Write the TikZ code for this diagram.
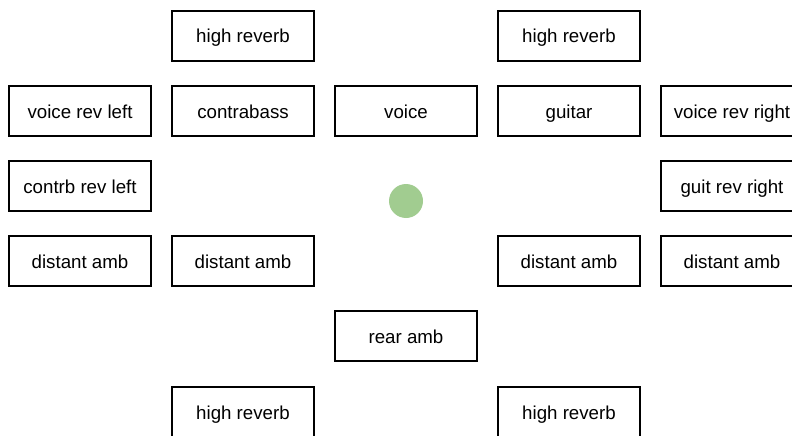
\documentclass[tikz,border=0pt]{standalone}
\usepackage{fontspec}
\setmainfont{Liberation Sans}
\usepackage{tikz}
\definecolor{listener}{RGB}{161,204,144}

\begin{document}
\begin{tikzpicture}[x=1pt, y=-1pt,
				    src/.style={draw, line width=1.3pt, fill=none, minimum width=142pt,
				    			  minimum height=50pt, inner sep=0pt, text centered, text=black,
				    			  text height=18pt, text depth=4pt,
				    			  font=\fontsize{18.7}{22}\selectfont}]
	\useasboundingbox (0, 0) rectangle (792, 436);
	\clip (0, 0) rectangle (792, 436);
	\node[src] (u1) at (243, 36) {high reverb};
	\node[src] (u2) at (569, 36) {high reverb};
	\node[src] (u3) at (80, 111) {voice rev left};
	\node[src] (u4) at (243, 111) {contrabass};
	\node[src] (u5) at (406, 111) {voice};
	\node[src] (u6) at (569, 111) {guitar};
	\node[src] (u7) at (732, 111) {voice rev right};
	\node[src] (u8) at (80, 186) {contrb rev left};
	\node[src] (u9) at (732, 186) {guit rev right};
	\node[src] (u10) at (80, 261) {distant amb};
	\node[src] (u11) at (243, 261) {distant amb};
	\node[src] (u12) at (569, 261) {distant amb};
	\node[src] (u13) at (732, 261) {distant amb};
	\node[src] (u14) at (406, 336) {rear amb};
	\node[src] (u15) at (243, 412) {high reverb};
	\node[src] (u16) at (569, 412) {high reverb};
	
	\node[circle, fill=listener, minimum size=34pt, inner sep=0pt] (c) at (406, 201) {};

\end{tikzpicture}
\end{document}
